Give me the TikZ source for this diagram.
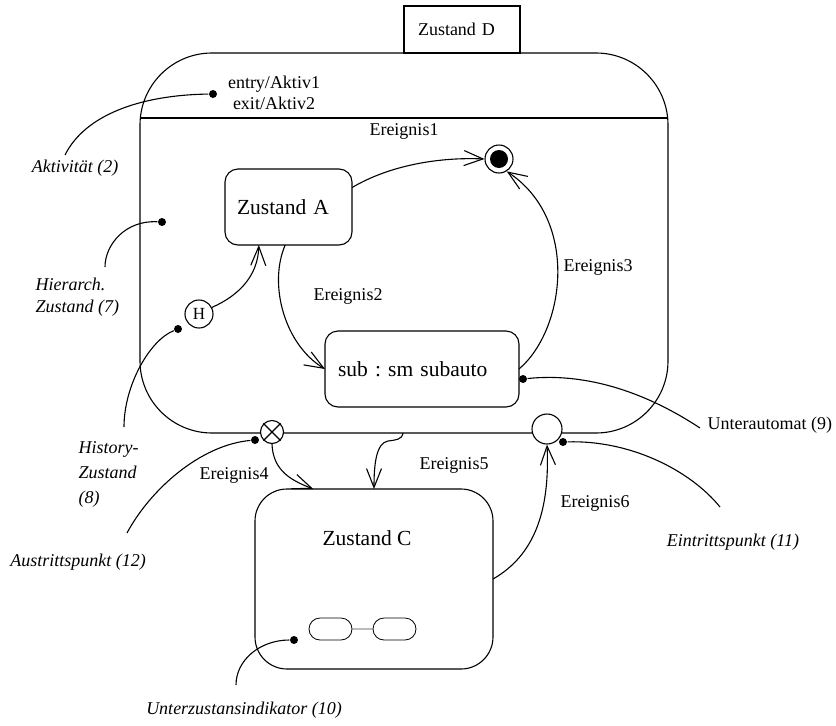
\documentclass[tikz,border=0pt]{standalone}
\usepackage{fontspec}
\setmainfont{Liberation Serif}
\usetikzlibrary{arrows.meta,shapes.misc}
\frenchspacing
\begin{document}
\begin{tikzpicture}[x=1pt,y=-1pt,line width=1.1pt,
  box/.style={draw, rounded corners=#1, inner sep=0pt, outer sep=0pt},
  box/.default=13pt,
  lbl/.style={font=\fontsize{18}{21}\selectfont, inner sep=0pt},
  note/.style={font=\fontsize{18}{24}\selectfont\itshape, inner sep=0pt, align=left},
  big/.style={font=\fontsize{21.5}{26}\selectfont},
  pin/.style={circle, fill, inner sep=0pt, minimum size=8pt},
  trans/.style={-{Straight Barb[length=19pt,width=15pt]}},
  pill/.style={draw, rounded rectangle, inner sep=0pt, minimum width=43pt, minimum height=22pt, line width=0.8pt}
]
\fill[white] (0,0) rectangle (836,726);
\useasboundingbox (0,0) rectangle (836,726);

% composite state D with its name tab and compartment line
\node[box=72pt, minimum width=528pt, minimum height=380pt] (D) at (404,243) {};
\node[draw, fill=white, inner sep=0pt, minimum width=116pt, minimum height=47pt,
      font=\fontsize{18}{21}\selectfont, align=left, text width=88pt, inner xsep=14pt] (Dtab) at (462,29.5) {Zustand D};
\coordinate (sepL) at (140,118);
\coordinate (sepR) at (668,118);
\draw (sepL) -- (sepR);
\node[lbl, align=center] (act) at (274,93) {entry/Aktiv1\\exit/Aktiv2};

% inner states
\node[box, minimum width=127pt, minimum height=76pt, big, align=left, text width=103pt, inner xsep=12pt] (A) at (288.5,207) {Zustand A};
\node[box, minimum width=194pt, minimum height=76pt, big, align=left, text width=168pt, inner xsep=13pt] (S) at (422,369) {sub : sm subauto};
\node[circle, draw, minimum size=28pt, inner sep=0pt] (F) at (499,159) {};
\node[circle, fill, minimum size=18pt, inner sep=0pt] (Fin) at (F.center) {};
\node[circle, draw, minimum size=28pt, inner sep=0pt, font=\fontsize{17}{20}\selectfont] (H) at (199,314) {H};

% exit and entry points on the border of D
\node[circle, draw, fill=white, minimum size=23pt, inner sep=0pt] (X) at (272,432) {};
\draw (X.north west) -- (X.south east) (X.north east) -- (X.south west);
\node[circle, draw, fill=white, minimum size=30pt, inner sep=0pt] (E) at (547,429) {};

% state C with decomposition indicator
\node[box=32pt, minimum width=238pt, minimum height=180pt] (C) at (374,579) {};
\node[big, inner sep=0pt] (Ct) at (367,538) {Zustand C};
\node[pill] (p1) at (330.5,629) {};
\node[pill] (p2) at (394.5,629) {};
\draw[line width=0.8pt, black!75] (p1) -- (p2);

% transitions
\draw[trans] (A.17) .. controls (390,165) and (440,157) .. (F.west);
\draw[trans] (A.-95) .. controls (268,285) and (285,345) .. (S.west);
\draw[trans] (S.east) .. controls (565,330) and (580,220) .. (F.-58);
\draw[trans] (H.27) .. controls (240,295) and (258,275) .. (A.-128.7);
\draw[trans] (X.south) .. controls (273,470) and (290,480) .. (C.124);
\coordinate (e5s) at (403,433);
\draw[trans] (e5s) .. controls (402,440) and (395,440) .. (388,441) .. controls (376,443) and (374,465) .. (C.north);
\draw[trans] (C.east) .. controls (535,555) and (550,510) .. (E.south);

\node[lbl] (ev1) at (404,131) {Ereignis1};
\node[lbl] (ev2) at (348,296) {Ereignis2};
\node[lbl] (ev3) at (598,267) {Ereignis3};
\node[lbl] (ev4) at (234,475) {Ereignis4};
\node[lbl] (ev5) at (454,465) {Ereignis5};
\node[lbl] (ev6) at (595,503) {Ereignis6};

% annotations
\node[pin] (dAct) at (213,94) {};
\coordinate (lAct) at (65,155);
\draw (dAct) .. controls (140,95) and (85,115) .. (lAct);
\node[note] (tAct) at (75,168) {Aktivität (2)};

\node[pin] (dHier) at (162,222) {};
\coordinate (lHier) at (105,267);
\draw (dHier) .. controls (125,220) and (105,245) .. (lHier);
\node[note, anchor=west, font=\fontsize{18}{22.5}\selectfont\itshape] (tHier) at (35,297) {Hierarch.\\Zustand (7)};

\node[pin] (dHist) at (178,329) {};
\coordinate (lHist) at (124,427);
\draw (dHist) .. controls (150,340) and (124,385) .. (lHist);
\node[note, anchor=west, font=\fontsize{18}{25}\selectfont\itshape] (tHist) at (78,474) {History-\\Zustand\\(8)};

\node[pin] (dSub) at (523,379) {};
\coordinate (lSub) at (700,428);
\draw (dSub) .. controls (590,372) and (650,395) .. (lSub);
\node[lbl, anchor=west] (tSub) at (707,425) {Unterautomat (9)};

\node[pin] (dEin) at (563,442) {};
\coordinate (lEin) at (720,507);
\draw (dEin) .. controls (630,440) and (690,470) .. (lEin);
\node[note] (tEin) at (733,542) {Eintrittspunkt (11)};

\node[pin] (dAus) at (255,440) {};
\coordinate (lAus) at (127,533);
\draw (dAus) .. controls (200,445) and (150,490) .. (lAus);
\node[note] (tAus) at (78,562) {Austrittspunkt (12)};

\node[pin] (dInd) at (294,640) {};
\coordinate (lInd) at (236,685);
\draw (dInd) .. controls (260,640) and (236,660) .. (lInd);
\node[note] (tInd) at (244,710) {Unterzustansindikator (10)};
\end{tikzpicture}
\end{document}
